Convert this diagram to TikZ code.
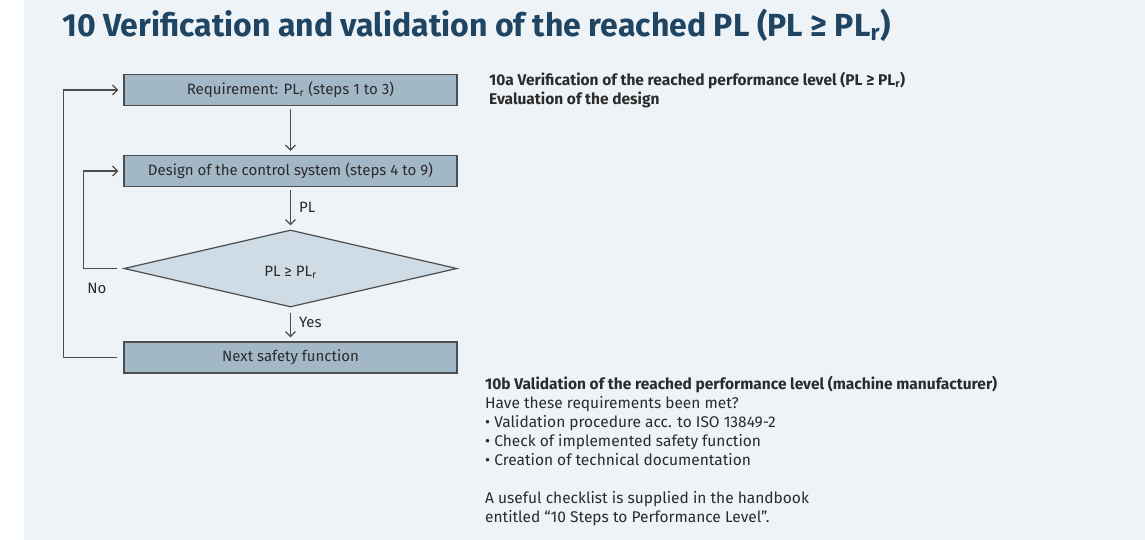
\documentclass[tikz,border=0pt]{standalone}
\usepackage{fontspec}
\setmainfont{Fira Sans}
\usetikzlibrary{shapes.geometric,arrows.meta}

\definecolor{fondo}{HTML}{EEF3F7}
\definecolor{azultit}{HTML}{1F4563}
\definecolor{azulcaja}{HTML}{A3B8C7}
\definecolor{azulrombo}{HTML}{CFDCE5}
\definecolor{gris}{HTML}{4D4D4D}
\definecolor{negro}{HTML}{2B2B2B}

\tikzset{
  paso/.style={draw=gris, line width=1.2pt, fill=azulcaja, minimum width=333pt,
    minimum height=31pt, inner sep=0pt, text=negro, font=\fontsize{15}{17}\selectfont},
  decision/.style={diamond, draw=gris, line width=1.2pt, fill=azulrombo, aspect=4,
    minimum width=333pt, minimum height=77pt, inner sep=0pt, text=negro,
    font=\fontsize{15}{17}\selectfont},
  flecha/.style={draw=gris, line width=1.2pt, -{Straight Barb[length=5pt,width=10pt]}},
  etiqueta/.style={text=negro, font=\fontsize{15}{17}\selectfont, inner sep=0pt},
  parrafo/.style={text=negro, font=\fontsize{15.5}{19}\selectfont, align=left,
    inner sep=0pt, anchor=north west}
}

\begin{document}
\begin{tikzpicture}[x=1pt, y=-1pt]

    % fondo
    \useasboundingbox (0,0) rectangle (1145,540);
    \fill[fondo] (24,0) rectangle (1145,540);

    % titulo
    \node[anchor=base west, inner sep=0pt, text=azultit,
      font=\fontsize{32}{36}\selectfont\bfseries] (titulo) at (62,37)
      {10 Verification and validation of the reached PL (PL ≥ PL\textsubscript{r})};

    % diagrama
    \node[paso] (req) at (290.5,90) {Requirement: PL\textsubscript{r} (steps 1 to 3)};
    \node[paso] (dis) at (290.5,171) {Design of the control system (steps 4 to 9)};
    \node[decision] (dec) at (290.5,268.5)
      {\raisebox{-8pt}[0pt][0pt]{PL ≥ PL\textsubscript{r}}};
    \node[paso] (sig) at (290.5,357.5) {Next safety function};

    % flechas
    \draw[flecha] ([yshift=-3pt]req.south) -- ([yshift=4pt]dis.north);
    \draw[flecha] ([yshift=-3pt]dis.south) -- ([yshift=4pt]dec.north)
      node[etiqueta, midway, right=8pt] (pl) {PL};
    \draw[flecha] ([yshift=-5pt]dec.south) -- ([yshift=4pt]sig.north)
      node[etiqueta, pos=0.38, right=8pt] (si) {Yes};

    % lazos de retorno
    \draw[flecha] ([xshift=-6pt]dec.west) -| ([xshift=-40pt]dis.west)
      -- ([xshift=-5pt]dis.west);
    \draw[flecha] ([xshift=-6pt]sig.west) -| ([xshift=-60pt]req.west)
      -- ([xshift=-5pt]req.west);
    \node[etiqueta] (no) at (97,288) {No};

    % textos
    \node[parrafo] (v10a) at (489,72)
      {\bfseries 10a Verification of the reached performance level (PL ≥ PL\textsubscript{r})\\
       \bfseries Evaluation of the design};
    \node[parrafo] (v10b) at (485,376)
      {\bfseries 10b Validation of the reached performance level (machine manufacturer)\\
       Have these requirements been met?\\
       • Validation procedure acc. to ISO 13849-2\\
       • Check of implemented safety function\\
       • Creation of technical documentation\\[19pt]
       A useful checklist is supplied in the handbook\\
       entitled “10 Steps to Performance Level”.};

\end{tikzpicture}
\end{document}
